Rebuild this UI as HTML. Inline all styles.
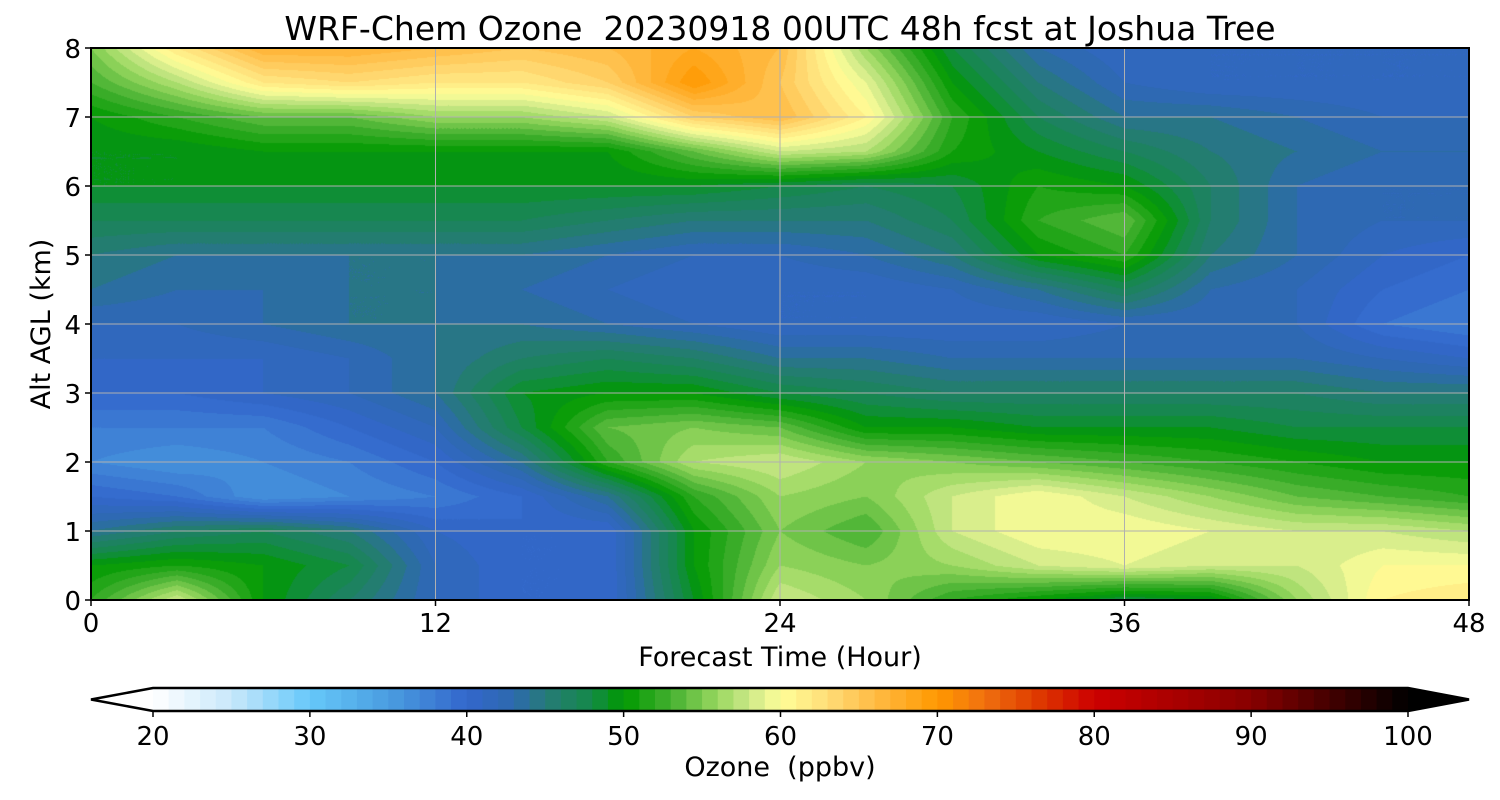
<!DOCTYPE html>
<html><head><meta charset="utf-8">
<style>
body{margin:0;background:#fff;width:1500px;height:800px;overflow:hidden;position:relative;font-family:"DejaVu Sans",sans-serif}
#field{position:absolute;left:91px;top:48px}
svg{position:absolute;left:0;top:0}
text{font-family:"DejaVu Sans",sans-serif;fill:#000;white-space:pre}
</style></head>
<body>
<canvas id="field" width="1378" height="552"></canvas>
<svg id="svg" width="1500" height="800">
<text x="780" y="40" font-size="33" text-anchor="middle" xml:space="preserve">WRF-Chem Ozone  20230918 00UTC 48h fcst at Joshua Tree</text>
<g id="grid"></g>
<rect x="91" y="48" width="1378" height="552" fill="none" stroke="#000" stroke-width="2"/>
<g id="xt"></g>
<g id="yt"></g>
<text x="780" y="666" font-size="27" text-anchor="middle">Forecast Time (Hour)</text>
<text transform="translate(50,324) rotate(-90)" font-size="27" text-anchor="middle">Alt AGL (km)</text>
<g id="cb"></g>
<text x="780" y="776" font-size="27" text-anchor="middle" xml:space="preserve">Ozone  (ppbv)</text>
</svg>
<script>
const times=[0,3,6,9,12,15,18,21,24,27,30,33,36,39,42,45,48];
const alts=[8,7.5,7,6.5,6,5.5,5,4.5,4,3.5,3,2.5,2,1.5,1,0.5,0];
const ozone=[
[55,62,67,67,66,65,66,68,66,56,48,43,41,41,41,41,41],
[53,57,62,63,62,62,64,70,65,59,50,45,42,41,41,41,41],
[50,52,54,54,56,56,58,64,66,61,52,47,44,44,43,42,42],
[49,49,50,50,50,50,50,54,58,57,51,49,47,45,44,43,43],
[49,49,49,49,49,49,49,49,48,47,48,51,50,46,43,42,42],
[47,47,47,47,47,47,46,45,45,45,47,52,54,46,43,42,42],
[45,44,44,44,44,44,43,42,42,43,45,50,52,45,43,41,40],
[44,43,43,44,44,43,42,41,41,41,42,44,47,43,42,40,39],
[42,42,43,44,44,44,43,42,41,41,41,41,42,42,42,39,38],
[41,41,41,42,44,46,47,46,44,44,43,43,43,43,43,42,41],
[40,40,41,42,44,49,50,50,48,47,46,46,46,46,46,45,45],
[38,38,38,40,42,48,54,55,54,50,50,49,49,49,48,48,48],
[37,36,37,38,40,44,52,57,58,56,55,54,53,52,51,50,50],
[40,39,36,37,38,40,44,52,56,55,58,60,58,56,54,53,52],
[44,46,47,45,41,40,40,50,55,53,58,60,60,59,58,58,57],
[50,51,50,48,42,40,40,50,56,55,56,58,59,58,58,60,60],
[52,58,50,46,42,40,40,49,58,56,52,50,48,49,56,61,62]];
const xTicks=[0,12,24,36,48];
const yTicks=[0,1,2,3,4,5,6,7,8];
const cbTicks=[20,30,40,50,60,70,80,90,100];
const cmapVals=[20,25,30,35,40,43,45,48,50,53,56,58,60,63,66,70,73,76,80,85,90,95,100];
const cmapCols=["#ffffff","#c8e8fa","#66c8fa","#4a9de0","#3366cc","#2d6aae","#267a78","#148a48","#009900","#44b030","#99d860","#cce888","#ffff99","#ffdd77","#ffbb44","#ff9900","#f07010","#e04000","#cc0000","#aa0000","#880000","#440000","#000000"];
const X0=91,X1=1469,Y0=48,Y1=600;
const xs=t=>X0+(t/48)*(X1-X0), ys=a=>Y1-(a/8)*(Y1-Y0);
const hex=h=>[1,3,5].map(i=>parseInt(h.substr(i,2),16));
function color(v){
  if(v<=cmapVals[0])return hex(cmapCols[0]);
  for(let i=1;i<cmapVals.length;i++){if(v<=cmapVals[i]){const f=(v-cmapVals[i-1])/(cmapVals[i]-cmapVals[i-1]);const a=hex(cmapCols[i-1]),b=hex(cmapCols[i]);return a.map((c,k)=>Math.round(c+(b[k]-c)*f));}}
  return hex(cmapCols[cmapCols.length-1]);
}
const cv=document.getElementById('field'),ctx=cv.getContext('2d');
const W=cv.width,H=cv.height,img=ctx.createImageData(W,H);
const lut={};
for(let py=0;py<H;py++){
  const a=8-(py+0.5)/H*8; const r=(8-a)/0.5; const r0=Math.min(Math.floor(r),alts.length-2), fr=r-r0;
  for(let px=0;px<W;px++){
    const t=(px+0.5)/W*48; const c=t/3; const c0=Math.min(Math.floor(c),times.length-2), fc=c-c0;
    const v=ozone[r0][c0]*(1-fr)*(1-fc)+ozone[r0][c0+1]*(1-fr)*fc+ozone[r0+1][c0]*fr*(1-fc)+ozone[r0+1][c0+1]*fr*fc;
    const lv=Math.floor(v);
    const col=lut[lv]||(lut[lv]=color(lv+0.5));
    const i=(py*W+px)*4; img.data[i]=col[0];img.data[i+1]=col[1];img.data[i+2]=col[2];img.data[i+3]=255;
  }
}
ctx.putImageData(img,0,0);
const NS="http://www.w3.org/2000/svg";
function mk(tag,attrs,parent,txt){const e=document.createElementNS(NS,tag);for(const k in attrs)e.setAttribute(k,attrs[k]);if(txt!==undefined)e.textContent=txt;parent.appendChild(e);return e;}
const grid=document.getElementById('grid'),xt=document.getElementById('xt'),yt=document.getElementById('yt'),cb=document.getElementById('cb');
xTicks.forEach(t=>{
  const l=mk('line',{x1:xs(t),x2:xs(t),y1:Y0,y2:Y1,stroke:'#b0b0b0','stroke-width':1},grid);
  
  
  mk('line',{x1:xs(t),x2:xs(t),y1:Y1,y2:Y1+6,stroke:'#000','stroke-width':1.5},xt);
  const tx=mk('text',{x:xs(t),y:Y1+32,'font-size':26,'text-anchor':'middle'},xt,String(t));
  
  
});
yTicks.forEach(a=>{
  const l=mk('line',{x1:X0,x2:X1,y1:ys(a),y2:ys(a),stroke:'#b0b0b0','stroke-width':1},grid);
  
  
  mk('line',{x1:X0-6,x2:X0,y1:ys(a),y2:ys(a),stroke:'#000','stroke-width':1.5},yt);
  const tx=mk('text',{x:X0-10,y:ys(a)+10,'font-size':26,'text-anchor':'end'},yt,String(a));
  
  
});
const C0=153,C1=1408,CT=688,CB=711;
const cx=v=>C0+(v-20)/80*(C1-C0);
for(let v=20;v<100;v++){
  const c=color(v+0.5);
  const r=mk('rect',{x:cx(v),y:CT,width:cx(v+1)-cx(v)+0.6,height:CB-CT,fill:`rgb(${c})`},cb);
  
  
}
const lt=mk('polygon',{points:`${C0},${CT} ${C0},${CB} 91,${(CT+CB)/2}`,fill:'#fff'},cb);


const rt=mk('polygon',{points:`${C1},${CT} ${C1},${CB} 1469,${(CT+CB)/2}`,fill:'#000'},cb);


mk('polygon',{points:`${C0},${CT} ${C1},${CT} 1469,${(CT+CB)/2} ${C1},${CB} ${C0},${CB} 91,${(CT+CB)/2}`,fill:'none',stroke:'#000','stroke-width':2.5},cb);
cbTicks.forEach(v=>{
  mk('line',{x1:cx(v),x2:cx(v),y1:CB,y2:CB+6,stroke:'#000','stroke-width':1.5},cb);
  const tx=mk('text',{x:cx(v),y:CB+34,'font-size':26,'text-anchor':'middle'},cb,String(v));
  
  
});
</script>
</body></html>
